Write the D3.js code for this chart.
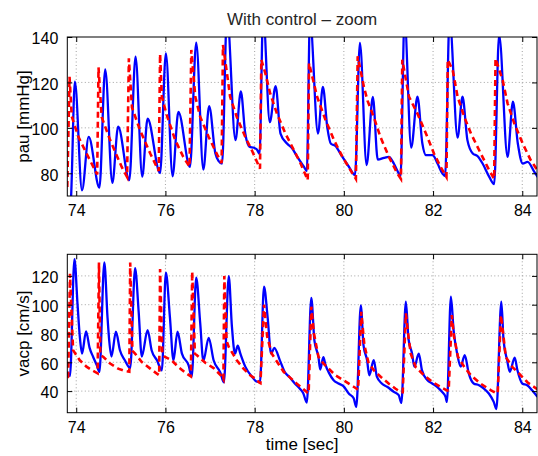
<!DOCTYPE html>
<html>
<head>
<meta charset="utf-8">
<script src="https://cdn.jsdelivr.net/npm/d3@7"></script>
<style>
  html, body { margin: 0; padding: 0; background: #fff; }
  svg { display: block; }
  text { font-family: "Liberation Sans", Arial, Helvetica, sans-serif; }
</style>
</head>
<body>
<svg id="chart" width="538" height="456"></svg>
<script>
// ---------------- DATA ----------------
const titleText = "With control \u2013 zoom";
const xLabel = "time [sec]";
const pauLabel = "pau [mmHg]";
const vacpLabel = "vacp [cm/s]";

const xTicks = [74, 76, 78, 80, 82, 84];
const pauTicks = [80, 100, 120, 140];
const vacpTicks = [40, 60, 80, 100, 120];

// pau measured (blue, solid)
const pauMeasT = [73.80,73.88,73.97,74.13,74.28,74.52,74.65,74.81,74.94,75.19,75.33,75.48,75.60,75.88,76.01,76.16,76.29,76.55,76.69,76.85,76.98,77.12,77.19,77.27,77.38,77.57,77.69,77.79,77.89,77.98,78.05,78.11,78.19,78.34,78.47,78.58,78.72,78.84,78.95,79.10,79.17,79.24,79.42,79.53,79.63,79.71,79.81,79.96,80.11,80.25,80.36,80.51,80.65,80.76,80.90,81.01,81.12,81.23,81.27,81.36,81.51,81.65,81.76,81.84,81.99,82.10,82.21,82.27,82.37,82.55,82.66,82.77,82.89,83.00,83.11,83.26,83.37,83.48,83.67,83.79,83.90,84.01,84.12,84.27,84.36];
const pauMeasV = [58,68,120.3,72.5,96,73.7,125.7,75.8,100.5,77,131.3,78.5,104,80.1,132.8,78.7,107,82.8,137.5,81.6,109.6,88.7,85.5,84.3,150,94.6,116,97.5,91.6,91.3,90.5,88.5,150,102.5,118.4,97.5,93.2,91,87.4,83,81,148,97.5,118,100,93,92.1,87.4,83,79.2,137.4,83.6,113.6,86,86.8,87.2,84.3,79.9,78.4,148,91.3,113.7,93.1,88,88,84.3,79.9,78.8,148,95.7,113.7,94.6,88.7,87.5,84.3,78.4,75.2,141,87.2,111.5,93.1,84.3,85,80.6,78];

// pau reference (red, dashed)
const pauRefT = [73.80,73.85,73.90,74.05,74.27,74.47,74.50,74.57,74.76,75.02,75.14,75.18,75.25,75.43,75.66,75.85,75.88,75.92,76.03,76.22,76.40,76.54,76.58,76.67,76.78,76.97,77.16,77.26,77.29,77.38,77.45,77.60,77.79,77.94,78.12,78.15,78.24,78.35,78.50,78.69,78.88,79.03,79.19,79.22,79.40,79.59,79.78,79.97,80.15,80.27,80.31,80.45,80.53,80.67,80.82,81.01,81.20,81.28,81.31,81.46,81.65,81.84,82.02,82.17,82.30,82.33,82.44,82.55,82.70,82.85,83.07,83.26,83.37,83.40,83.56,83.67,83.82,84.01,84.19,84.34];
const pauRefV = [74,122.5,105,96,87.2,79.5,126.6,104.8,94.6,82.8,78.4,130.6,109,99,88.7,81,132.5,113.7,105.6,94.6,87.2,83,134.3,113.7,104.8,96,88.2,84.5,136.5,124,113.7,104.8,96,90,82,130,124,115,106.3,97.5,90.2,84.3,77,128.5,113.7,103.4,94.6,87.2,81.3,77.5,131.5,118,112,104.8,96,87.2,79.9,77.5,130,113.7,106.3,97.5,88.7,82.8,78.4,130,125.4,113.7,104.8,97.5,88.7,81.3,77.5,130.5,121,110.8,102,93.1,85.7,81.3];

// vacp measured (blue, solid)
const vacpMeasT = [73.80,73.86,73.96,74.03,74.08,74.13,74.22,74.30,74.38,74.46,74.52,74.63,74.70,74.74,74.79,74.89,74.98,75.09,75.21,75.32,75.40,75.47,75.60,75.69,75.81,75.92,76.01,76.10,76.18,76.27,76.37,76.52,76.59,76.69,76.78,76.85,76.97,77.08,77.23,77.31,77.42,77.49,77.56,77.62,77.68,77.79,77.94,78.05,78.12,78.21,78.29,78.37,78.44,78.57,78.68,78.79,78.90,79.01,79.09,79.17,79.27,79.34,79.43,79.47,79.54,79.59,79.66,79.77,79.88,79.99,80.11,80.22,80.28,80.38,80.44,80.52,80.57,80.67,80.74,80.85,80.97,81.12,81.23,81.29,81.39,81.45,81.53,81.58,81.68,81.75,81.87,81.98,82.09,82.20,82.28,82.31,82.40,82.46,82.54,82.62,82.71,82.80,82.91,83.03,83.14,83.25,83.36,83.42,83.53,83.58,83.66,83.72,83.83,83.89,84.00,84.11,84.22,84.34];
const vacpMeasV = [53.5,50.5,131.6,100,78,66,81.5,70,63.7,58,53.3,129.3,92,75,64,81.2,68.4,61.4,56,125.3,95,64,82.3,68.4,61.4,54.4,122.3,91.6,61.4,81.2,66,57.9,50,118.7,87,61,77,61.4,53,46,119.8,85,66,71.5,66,57,50,46.5,46.3,112.6,91.6,66,70,61,53,49.5,45.3,41.8,38.5,32,104.7,75,63.8,55,63.5,58,53,47.6,45.3,43.5,38.3,35,29,99.5,72,61.5,51,61.5,50,45.3,43,39.5,37.2,31.8,102.1,76,66,57,66,54.6,47.6,45.3,43,39.5,36,32.5,105.6,82.4,66,57,65,52.3,45.3,44.1,41.8,38.3,32.5,27.5,102.1,75.4,61.5,53.4,63.2,54.6,45.3,44.1,40.6,36];

// vacp reference (red, dashed)
const vacpRefT = [73.80,73.82,73.86,73.93,74.08,74.23,74.38,74.48,74.51,74.54,74.61,74.76,74.94,75.09,75.19,75.21,75.26,75.32,75.47,75.66,75.81,75.86,75.88,75.93,75.99,76.14,76.29,76.48,76.57,76.60,76.66,76.70,76.90,77.08,77.24,77.30,77.32,77.37,77.42,77.60,77.75,77.90,78.02,78.10,78.13,78.21,78.28,78.38,78.65,78.94,79.19,79.21,79.27,79.33,79.43,79.54,79.81,79.99,80.22,80.32,80.39,80.46,80.55,80.67,80.83,81.01,81.16,81.28,81.32,81.39,81.44,81.50,81.61,81.80,81.99,82.17,82.31,82.35,82.42,82.47,82.56,82.70,82.85,83.07,83.30,83.42,83.45,83.52,83.58,83.63,83.78,83.93,84.12,84.35];
const vacpRefV = [49.5,50,121.5,68.4,61.4,57,54,52.3,129.3,65,63.7,59.1,55.6,54,53.5,129.3,68,66,60.2,55.6,52.1,51,124.7,66,63.7,61.4,56.7,52.1,50.2,123,66,65,59.5,56,51,48,120,75,70.7,61.4,55.6,51,48.6,46,45.5,100,78,66.2,53.4,45.3,38.8,38.5,98.6,80,63.8,59.2,51,47.6,43,41,95,72,60,54.5,49.8,45.1,41.6,39.3,39.3,94,80,66,56.7,50.9,46.3,42.8,40.5,40.3,92.8,77.7,63.7,56.7,50.9,45.1,40.5,38.6,38.6,92.8,77.7,63.7,56.7,52.1,46,41];

// ---------------- DRAW ----------------
const svg = d3.select("#chart");
const left = 67.3, right = 537;
const x = d3.scaleLinear().domain([73.8, 84.33]).range([left, right]);

const panels = [
  { id: "top", top: 37, bottom: 196, domain: [70, 140], ticks: pauTicks, label: pauLabel,
    meas: d3.zip(pauMeasT, pauMeasV), ref: d3.zip(pauRefT, pauRefV) },
  { id: "bot", top: 254.3, bottom: 412.7, domain: [25, 135], ticks: vacpTicks, label: vacpLabel,
    meas: d3.zip(vacpMeasT, vacpMeasV), ref: d3.zip(vacpRefT, vacpRefV) }
];

const defs = svg.append("defs");

panels.forEach(p => {
  const y = d3.scaleLinear().domain(p.domain).range([p.bottom, p.top]);
  const g = svg.append("g");
  const w = right - left, h = p.bottom - p.top;

  defs.append("clipPath").attr("id", "clip-" + p.id)
    .append("rect").attr("x", left).attr("y", p.top).attr("width", w).attr("height", h);

  // grid
  const grid = g.append("g").attr("stroke", "#8a8a8a").attr("stroke-width", 0.8)
    .attr("stroke-dasharray", "1,2.5");
  grid.selectAll("line.gx").data(xTicks).join("line").attr("class", "gx")
    .attr("x1", d => x(d)).attr("x2", d => x(d)).attr("y1", p.top).attr("y2", p.bottom);
  grid.selectAll("line.gy").data(p.ticks.filter(t => t < p.domain[1])).join("line").attr("class", "gy")
    .attr("x1", left).attr("x2", right).attr("y1", d => y(d)).attr("y2", d => y(d));

  // lines
  const lg = g.append("g").attr("clip-path", "url(#clip-" + p.id + ")");
  const lineMeas = d3.line().x(d => x(d[0])).y(d => y(d[1])).curve(d3.curveMonotoneX);
  const lineRef = d3.line().x(d => x(d[0])).y(d => y(d[1]));
  lg.append("path").datum(p.meas).attr("d", lineMeas)
    .attr("fill", "none").attr("stroke", "#0000ff").attr("stroke-width", 2.3)
    .attr("stroke-linejoin", "round");
  lg.append("path").datum(p.ref).attr("d", lineRef)
    .attr("fill", "none").attr("stroke", "#ff0000").attr("stroke-width", 2.6)
    .attr("stroke-dasharray", "6,4");

  // axes (box with inward ticks)
  const axB = d3.axisBottom(x).tickValues(xTicks).tickSize(-5).tickPadding(9).tickFormat(d3.format("d"));
  const axT = d3.axisTop(x).tickValues(xTicks).tickSize(-5).tickFormat("");
  const axL = d3.axisLeft(y).tickValues(p.ticks).tickSize(-5).tickPadding(9).tickFormat(d3.format("d"));
  const axR = d3.axisRight(y).tickValues(p.ticks).tickSize(-5).tickFormat("");

  const styleAxis = sel => {
    sel.select(".domain").attr("stroke", "#000").attr("stroke-width", 1);
    sel.selectAll(".tick line").attr("stroke", "#000").attr("stroke-width", 1);
    sel.selectAll(".tick text").attr("fill", "#000").style("font-size", "16px")
      .style("font-family", '"Liberation Sans", Arial, sans-serif');
  };
  g.append("g").attr("transform", `translate(0,${p.bottom})`).call(axB).call(styleAxis)
    .selectAll(".tick text").attr("dy", "0.71em");
  g.append("g").attr("transform", `translate(0,${p.top})`).call(axT).call(styleAxis);
  g.append("g").attr("transform", `translate(${left},0)`).call(axL).call(styleAxis)
    .selectAll(".tick text").attr("dy", "0.42em");
  g.append("g").attr("transform", `translate(${right},0)`).call(axR).call(styleAxis);
  g.selectAll(".domain").attr("d", null);
  g.append("rect").attr("x", left).attr("y", p.top).attr("width", w).attr("height", h)
    .attr("fill", "none").attr("stroke", "#000").attr("stroke-width", 1);

  // y label
  g.append("text")
    .attr("transform", `translate(29,${(p.top + p.bottom) / 2}) rotate(-90)`)
    .attr("text-anchor", "middle").style("font-size", "17px").attr("fill", "#000")
    .text(p.label);
});

svg.append("text").attr("x", (left + right) / 2).attr("y", 25)
  .attr("text-anchor", "middle").style("font-size", "17px").attr("fill", "#262626")
  .text(titleText);

svg.append("text").attr("x", (left + right) / 2).attr("y", 450)
  .attr("text-anchor", "middle").style("font-size", "17px").attr("fill", "#000")
  .text(xLabel);
</script>
</body>
</html>
